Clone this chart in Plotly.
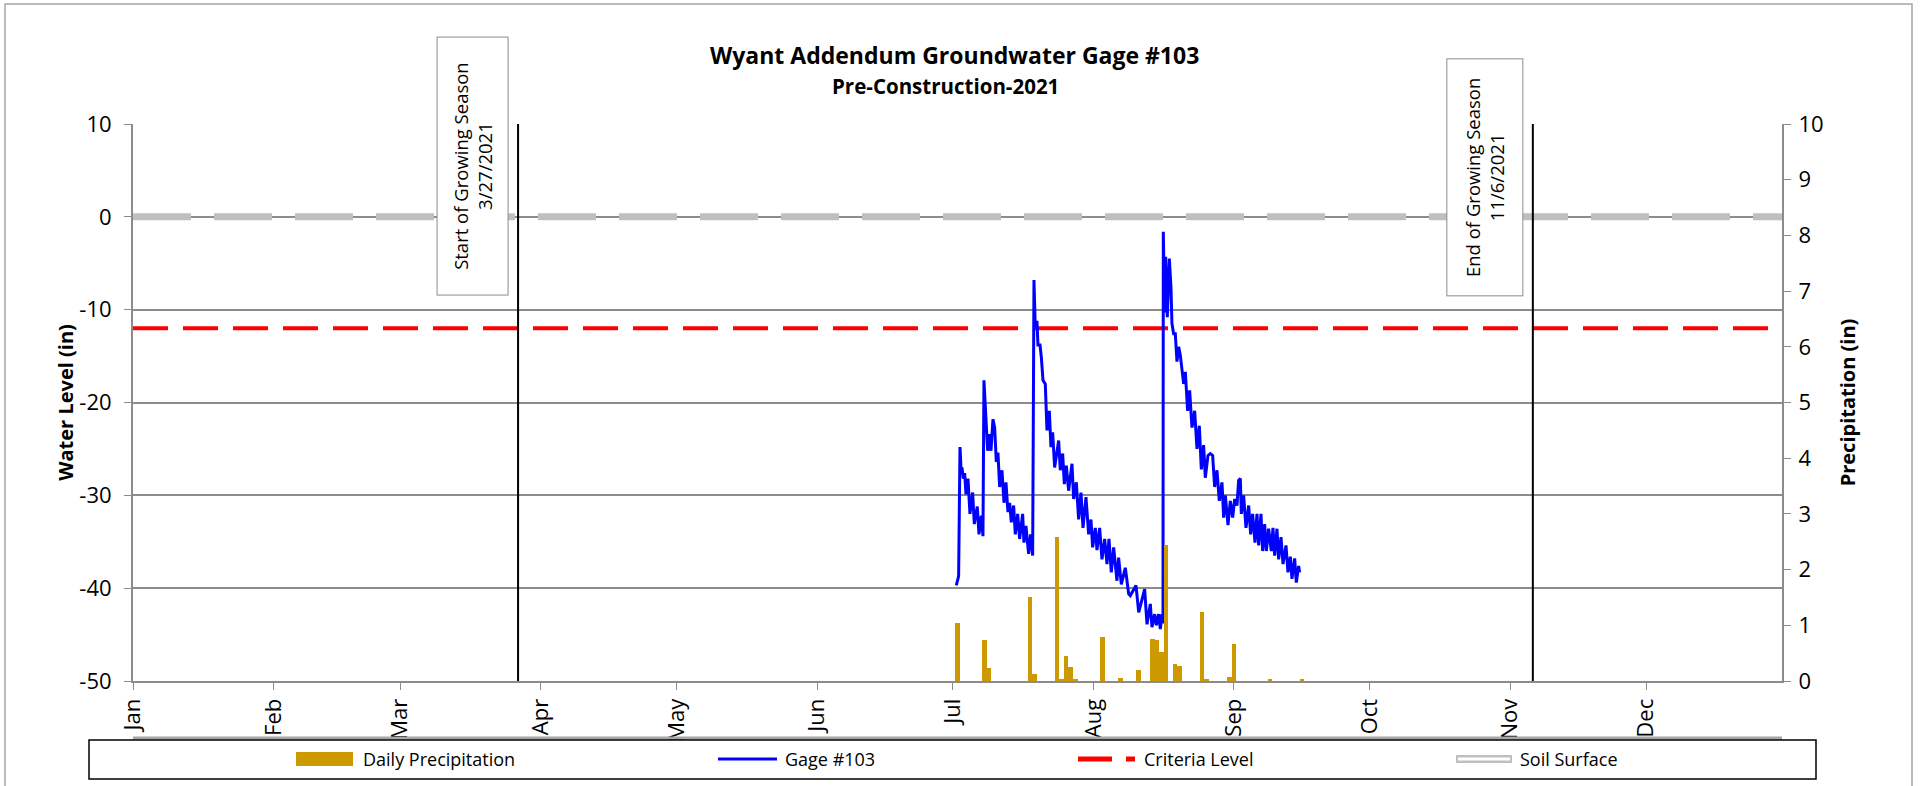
import pandas as pd
import plotly.graph_objects as go

# ---------------- data ----------------
month_labels = ["Jan", "Feb", "Mar", "Apr", "May", "Jun", "Jul", "Aug", "Sep", "Oct", "Nov", "Dec"]
month_starts = ["2021-01-01", "2021-02-01", "2021-03-01", "2021-04-01", "2021-05-01", "2021-06-01",
                "2021-07-01", "2021-08-01", "2021-09-01", "2021-10-01", "2021-11-01", "2021-12-01"]
level_ticks = [-50, -40, -30, -20, -10, 0, 10]
level_tick_labels = ["-50", "-40", "-30", "-20", "-10", "0", "10"]
axis_start = "2021-01-01"
axis_end = "2021-12-31"
season_start = "2021-03-27"
season_end = "2021-11-06"
criteria_level = -12
soil_surface = 0

# gage readings: day of year (0 = Jan 1 00:00) and water level (in)
gage_doy = [
    181.74, 182.25, 182.55, 182.84, 182.99, 183.28, 183.58, 183.87, 184.31, 184.75,
    185.34, 185.71, 186.37, 186.74, 187.25, 187.62, 187.84, 188.28, 188.65, 189.09,
    189.39, 189.83, 190.20, 190.57, 190.93, 191.30, 191.82, 192.26, 192.70, 193.14,
    193.51, 193.88, 194.39, 194.76, 195.28, 195.72, 196.38, 196.67, 197.11, 197.70,
    198.14, 198.59, 198.88, 199.17, 199.54, 199.76, 200.21, 200.50, 200.87, 201.38,
    201.75, 202.27, 202.63, 203.00, 203.44, 204.33, 204.69, 205.21, 205.58, 206.02,
    206.53, 207.27, 207.64, 208.23, 208.74, 209.26, 209.70, 210.36, 210.95, 211.46,
    211.83, 212.42, 212.79, 213.38, 213.89, 214.48, 215.00, 215.44, 215.95, 216.47,
    217.20, 217.57, 218.16, 219.04, 219.78, 220.15, 221.40, 222.00, 223.31, 223.83,
    224.56, 224.93, 225.52, 225.89, 226.40, 226.77, 227.14, 227.36, 227.43, 227.72,
    227.95, 228.31, 228.76, 229.12, 229.34, 229.71, 230.08, 230.45, 230.82, 231.18,
    231.55, 231.92, 232.29, 232.80, 233.24, 233.76, 234.35, 234.86, 235.38, 235.82,
    236.33, 236.70, 237.29, 237.81, 238.32, 238.76, 239.28, 239.79, 240.38, 240.75,
    241.12, 241.71, 242.22, 242.74, 243.18, 243.69, 244.06, 244.43, 244.65, 245.16,
    245.68, 246.27, 246.71, 247.15, 247.67, 248.11, 248.48, 248.99, 249.36, 249.80,
    250.17, 250.68, 251.27, 251.64, 252.01, 252.52, 252.89, 253.41, 253.85, 254.51,
    254.95, 255.47, 255.83, 256.42, 256.79, 257.31, 257.53,
]
gage_level = [
    -39.7, -38.7, -24.8, -27.7, -27.0, -28.2, -27.6, -29.9, -28.2, -32.0,
    -29.7, -33.1, -31.2, -34.2, -32.2, -34.4, -17.6, -21.9, -25.2, -23.4,
    -25.2, -21.8, -22.7, -26.4, -25.4, -29.1, -27.3, -30.8, -28.6, -31.8,
    -30.8, -32.9, -31.1, -34.2, -32.0, -34.7, -32.0, -35.1, -33.3, -36.3,
    -34.2, -36.5, -6.8, -11.9, -11.2, -13.8, -13.8, -15.1, -17.6, -18.0,
    -23.0, -20.9, -24.8, -23.2, -27.0, -24.1, -27.3, -25.5, -28.8, -26.8,
    -29.5, -26.6, -30.4, -28.6, -32.6, -29.7, -33.5, -30.2, -34.2, -32.6,
    -35.6, -33.5, -35.9, -33.5, -36.9, -34.7, -37.4, -34.7, -38.3, -35.6,
    -39.2, -36.7, -39.6, -37.8, -40.6, -40.8, -39.7, -42.6, -40.1, -43.9,
    -41.7, -44.2, -42.8, -44.0, -42.8, -44.4, -42.8, -43.8, -1.6, -10.3,
    -4.3, -10.8, -4.5, -7.6, -11.5, -12.6, -12.6, -15.6, -14.0, -14.9,
    -16.5, -18.0, -16.7, -20.9, -18.7, -22.7, -20.9, -25.0, -22.5, -27.2,
    -24.6, -28.1, -25.7, -25.5, -25.7, -29.1, -27.3, -30.6, -28.6, -32.4,
    -30.0, -33.2, -30.6, -32.4, -30.4, -31.1, -28.4, -28.2, -32.0, -30.0,
    -33.5, -31.1, -34.2, -32.0, -35.1, -32.0, -35.4, -32.0, -36.0, -33.1,
    -36.0, -33.6, -36.0, -33.5, -36.5, -33.6, -36.9, -34.5, -37.4, -35.4,
    -38.3, -36.6, -39.0, -36.8, -39.4, -37.6, -38.3,
]

precip_dates = ["2021-07-02", "2021-07-08", "2021-07-09", "2021-07-18", "2021-07-19",
                "2021-07-24", "2021-07-25", "2021-07-26", "2021-07-27", "2021-07-28",
                "2021-08-03", "2021-08-07", "2021-08-11", "2021-08-14", "2021-08-15",
                "2021-08-16", "2021-08-17", "2021-08-19", "2021-08-20", "2021-08-25",
                "2021-08-26", "2021-08-31", "2021-09-01", "2021-09-09", "2021-09-16"]
precip_in = [1.05, 0.74, 0.23, 1.50, 0.13,
             2.58, 0.04, 0.44, 0.25, 0.03,
             0.79, 0.06, 0.20, 0.76, 0.73,
             0.52, 2.44, 0.30, 0.27, 1.23,
             0.02, 0.08, 0.67, 0.03, 0.02]

gage_time = pd.Timestamp("2021-01-01") + pd.to_timedelta(gage_doy, unit="D")

# ---------------- figure ----------------
FONT = "Open Sans"
GRID = "#8C8C8C"
W, H = 1931, 786
L, R, T, B = 133, 149, 124, 105
PW, PH = W - L - R, H - T - B
TICK_SIZE = 22


def px(xp):
    return (xp - L) / PW


def py(yp):
    return (H - B - yp) / PH


fig = go.Figure()
fig.add_trace(go.Bar(x=precip_dates, y=precip_in, yaxis="y2", name="Daily Precipitation",
                     marker=dict(color="#CC9900", line=dict(width=0)), width=86400000))
fig.add_trace(go.Scatter(x=[axis_start, axis_end], y=[soil_surface, soil_surface], mode="lines",
                         name="Soil Surface", line=dict(color="#BFBFBF", width=7, dash="58px,23px")))
fig.add_trace(go.Scatter(x=[axis_start, axis_end], y=[criteria_level, criteria_level], mode="lines",
                         name="Criteria Level", line=dict(color="#FF0000", width=4, dash="35px,15px")))
fig.add_trace(go.Scatter(x=gage_time, y=gage_level, mode="lines", name="Gage #103",
                         line=dict(color="#0000FF", width=3)))

shapes = []
for d in (season_start, season_end):
    shapes.append(dict(type="line", xref="x", yref="paper", x0=d, x1=d, y0=0, y1=1,
                       line=dict(color="black", width=2)))

# outer chart border
shapes.append(dict(type="rect", xref="paper", yref="paper", x0=px(5), x1=px(1912), y0=py(810), y1=py(4),
                   line=dict(color="#A6A6A6", width=1.5), layer="below"))
# gray rule above legend
shapes.append(dict(type="line", xref="paper", yref="paper", x0=px(133), x1=px(1782), y0=py(738), y1=py(738),
                   line=dict(color="#A6A6A6", width=3)))
# legend box
shapes.append(dict(type="rect", xref="paper", yref="paper", x0=px(89), x1=px(1816), y0=py(779), y1=py(740),
                   line=dict(color="black", width=1.5), fillcolor="white"))
LY = 759
# legend swatches
shapes.append(dict(type="rect", xref="paper", yref="paper", x0=px(296), x1=px(353), y0=py(766), y1=py(752),
                   line=dict(width=0), fillcolor="#CC9900"))
shapes.append(dict(type="line", xref="paper", yref="paper", x0=px(718), x1=px(777), y0=py(LY), y1=py(LY),
                   line=dict(color="#0000FF", width=3)))
shapes.append(dict(type="line", xref="paper", yref="paper", x0=px(1078), x1=px(1112), y0=py(LY), y1=py(LY),
                   line=dict(color="#FF0000", width=5)))
shapes.append(dict(type="line", xref="paper", yref="paper", x0=px(1126), x1=px(1135), y0=py(LY), y1=py(LY),
                   line=dict(color="#FF0000", width=5)))
shapes.append(dict(type="line", xref="paper", yref="paper", x0=px(1456), x1=px(1512), y0=py(LY), y1=py(LY),
                   line=dict(color="#BFBFBF", width=8)))
shapes.append(dict(type="line", xref="paper", yref="paper", x0=px(1458), x1=px(1510), y0=py(LY), y1=py(LY),
                   line=dict(color="white", width=3)))

annotations = []
legend_items = [("Daily Precipitation", 361), ("Gage #103", 783), ("Criteria Level", 1142), ("Soil Surface", 1518)]
for txt, xp in legend_items:
    annotations.append(dict(text=txt, xref="paper", yref="paper", x=px(xp), y=py(LY), xanchor="left",
                            yanchor="middle", showarrow=False, font=dict(size=18, family=FONT, color="black")))

annotations.append(dict(text="<b>Wyant Addendum Groundwater Gage #103</b>", xref="paper", yref="paper",
                        x=px(954), y=py(55), xanchor="center", yanchor="middle", showarrow=False,
                        font=dict(size=23, family=FONT, color="black")))
annotations.append(dict(text="<b>Pre-Construction-2021</b>", xref="paper", yref="paper",
                        x=px(945), y=py(86), xanchor="center", yanchor="middle", showarrow=False,
                        font=dict(size=20.5, family=FONT, color="black")))

for d, label, box_len, box_w in ((season_start, "Start of Growing Season<br>3/27/2021", 257, 70),
                                  (season_end, "End of Growing Season<br>11/6/2021", 236, 75)):
    annotations.append(dict(text=label, xref="x", yref="paper", x=d, y=py(296), xanchor="right",
                            yanchor="bottom", xshift=-10, showarrow=False, textangle=-90,
                            width=box_len, height=box_w, align="center", valign="middle",
                            bgcolor="white", bordercolor="#8C8C8C", borderwidth=1, borderpad=0,
                            font=dict(size=18.5, family=FONT, color="black")))

fig.update_layout(
    width=W, height=H,
    margin=dict(l=L, r=R, t=T, b=B),
    paper_bgcolor="white", plot_bgcolor="white",
    showlegend=False,
    bargap=0,
    font=dict(family=FONT, size=18, color="black"),
    xaxis=dict(type="date", range=[axis_start, axis_end], tickmode="array", tickvals=month_starts,
               ticktext=month_labels, tickangle=-90, ticks="outside", ticklen=7, tickcolor=GRID,
               showline=True, linecolor=GRID, linewidth=2, showgrid=False, zeroline=False,
               tickfont=dict(size=TICK_SIZE, family=FONT)),
    yaxis=dict(range=[-50, 10], tickmode="array", tickvals=level_ticks, ticktext=level_tick_labels,
               ticks="outside", ticklen=7, tickcolor=GRID, ticklabelstandoff=8,
               showline=True, linecolor=GRID, linewidth=2, showgrid=True, gridcolor=GRID, gridwidth=1.5,
               zeroline=False, tickfont=dict(size=TICK_SIZE, family=FONT),
               title=dict(text="<b>Water Level (in)</b>", font=dict(size=20, family=FONT), standoff=0)),
    yaxis2=dict(range=[0, 10], dtick=1, tick0=0, overlaying="y", side="right", ticks="outside", ticklen=7,
                tickcolor=GRID, ticklabelstandoff=3, showline=True, linecolor=GRID, linewidth=2,
                showgrid=False, zeroline=False,
                tickfont=dict(size=TICK_SIZE, family=FONT),
                title=dict(text="<b>Precipitation (in)</b>", font=dict(size=20, family=FONT), standoff=18)),
    shapes=shapes,
    annotations=annotations,
)

fig.write_html("out.html", config={"displayModeBar": False},
               post_script="document.body.style.margin='0';document.body.style.overflow='hidden';")
